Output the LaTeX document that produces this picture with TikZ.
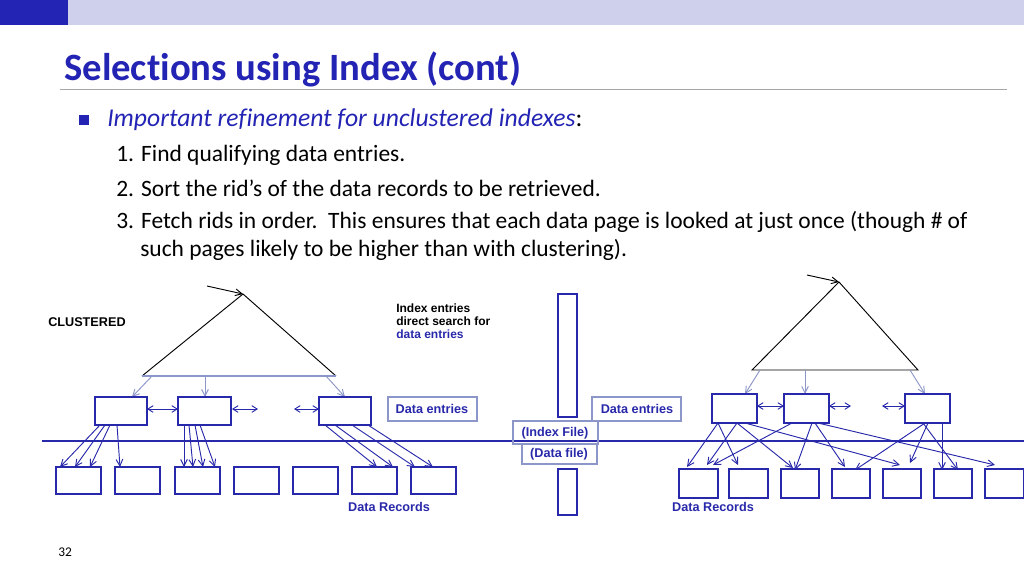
\documentclass[tikz,border=0pt]{standalone}
\usepackage{fontspec}
\setmainfont[Ligatures={NoCommon}]{Carlito}
\newfontfamily\arial{Liberation Sans}
\usetikzlibrary{arrows.meta}
\definecolor{db}{RGB}{40,40,170}
\definecolor{tb}{RGB}{35,35,180}
\definecolor{bar}{RGB}{206,208,236}
\definecolor{lb}{RGB}{140,150,200}
\begin{document}
\begin{tikzpicture}[x=0.75pt,y=-0.75pt,
  bx/.style={draw=db,line width=0.8pt},
  ar/.style={db,line width=0.7pt,-{Straight Barb[length=5pt,width=5pt]}},
  dar/.style={db,line width=0.7pt,{Straight Barb[length=4pt,width=5pt]}-{Straight Barb[length=4pt,width=5pt]}},
  la/.style={lb,line width=0.7pt,-{Straight Barb[length=5pt,width=5pt]}},
  lbl/.style={font=\arial\bfseries\fontsize{9.5}{10}\selectfont,inner sep=0pt},
  body/.style={font=\fontsize{17.6}{20}\selectfont,anchor=west,inner sep=0pt}]
\useasboundingbox (0,0) rectangle (1024,576);
\fill[bar] (0,0) rectangle (1024,25);
\fill[tb] (0,0) rectangle (68,25);
\node[anchor=west,inner sep=0pt,text=tb,font=\bfseries\fontsize{29}{32}\selectfont] (title) at (64,69) {Selections using Index (cont)};
\draw[gray!70,line width=0.6pt] (60,89) -- (1007,89);
\fill[tb] (79,115) rectangle (89,125);
\node[body,font=\itshape\fontsize{19.2}{22}\selectfont,text=tb] (b1) at (107,120) {Important refinement for unclustered indexes\textup{\color{black}:}};
\node[body] (l1) at (116,155) {1. Find qualifying data entries.};
\node[body] (l2) at (116,188) {2. Sort the rid’s of the data records to be retrieved.};
\node[body] (l3) at (116,222) {3. Fetch rids in order.\ \ This ensures that each data page is looked at just once (though \# of};
\node[body] (l4) at (140,250) {such pages likely to be higher than with clustering).};
\node[anchor=west,inner sep=0pt,font=\fontsize{10}{12}\selectfont] (pg) at (58,552) {32};

% labels
\node[lbl,anchor=west] (cl) at (48,322) {CLUSTERED};
\node[lbl,anchor=north west,align=left,font=\arial\bfseries\fontsize{9}{9.6}\selectfont] (ie) at (396,304) {Index entries\\direct search for\\\textcolor{db}{data entries}};

% separator line
\draw[db,line width=0.8pt] (42,441) -- (1024,441);

% left tree
\draw[black,line width=0.7pt] (142,376) -- (243,294) -- (336,376);
\draw[lb,line width=0.9pt] (142,376) -- (336,376);
\draw[line width=0.7pt,-{Straight Barb[length=5pt,width=5pt]}] (207,286) -- (243,294);
\draw[la] (152,376) -- (132,397);
\draw[la] (205,376) -- (205,397);
\draw[la] (326,376) -- (345,397);
\draw[bx] (95,397) rectangle (147,425);
\draw[bx] (178,397) rectangle (231,425);
\draw[bx] (319,397) rectangle (371,425);
\draw[dar] (147,409) -- (178,409);
\draw[dar] (232,409) -- (258,409);
\draw[dar] (294,409) -- (319,409);
\draw[bx,draw=lb] (388,397) rectangle (477,421);
\node[lbl,text=db] (de1) at (432,409) {Data entries};
\foreach \x in {56,115,175,234,293,352,411} \draw[bx] (\x,467) rectangle ++(45,27);
\foreach \a/\b in {100/60,105/75,110/90,117/120,184/184,189/193,195/203,200/215,325/377,335/393,352/415,368/433}
  \draw[ar] (\a,425) -- (\b,467);
\node[lbl,text=db] (dr1) at (389,507) {Data Records};

% middle
\draw[bx] (558,294) rectangle (577,417);
\draw[bx] (558,469) rectangle (577,515);
\draw[bx,draw=lb] (513,421) rectangle (598,444);
\node[lbl,text=db] (if) at (555,433) {(Index File)};
\draw[bx,draw=lb] (522,444) rectangle (597,464);
\node[lbl,text=db] (df) at (559,454) {(Data file)};
\draw[bx,draw=lb] (592,397) rectangle (681,421);
\node[lbl,text=db] (de2) at (637,409) {Data entries};

% right tree
\draw[black,line width=0.7pt] (752,370) -- (839,282) -- (918,370) -- cycle;
\draw[line width=0.7pt,-{Straight Barb[length=5pt,width=5pt]}] (807,275) -- (839,282);
\draw[la] (760,370) -- (745,394);
\draw[la] (805,370) -- (805,394);
\draw[la] (910,370) -- (925,394);
\draw[bx] (712,394) rectangle (757,423);
\draw[bx] (784,394) rectangle (829,423);
\draw[bx] (905,394) rectangle (950,423);
\draw[dar] (757,406) -- (784,406);
\draw[dar] (829,406) -- (851,406);
\draw[dar] (882,406) -- (905,406);
\foreach \x/\w in {679/39,729/39,781/38,832/38,883/38,934/38,985/39} \draw[bx] (\x,469) rectangle ++(\w,29);
\foreach \a/\b/\c in {718/687/467,718/738/465,737/707/465,737/793/468,745/900/465,792/713/465,812/795/470,815/845/467,818/995/465,925/855/470,928/910/463,942/942/470,923/958/470}
  \draw[ar] (\a,423) -- (\b,\c);
\node[lbl,text=db] (dr2) at (713,507) {Data Records};
\end{tikzpicture}
\end{document}
